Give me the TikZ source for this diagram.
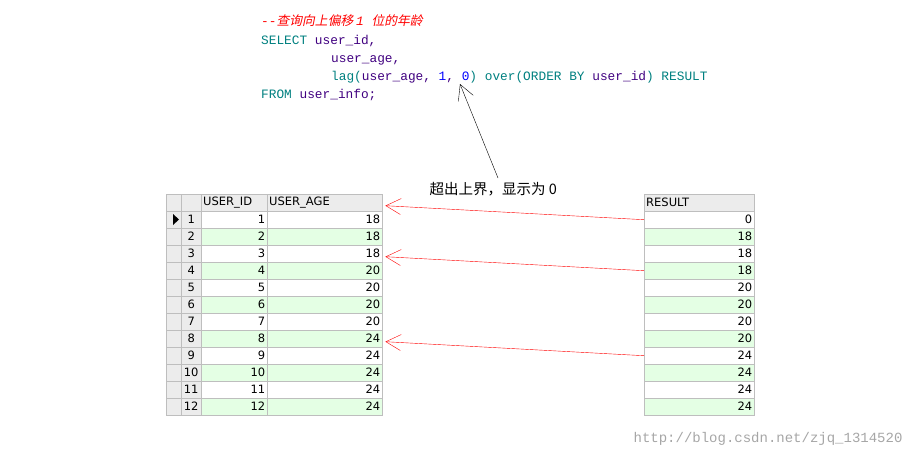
\documentclass[tikz,border=0pt]{standalone}
\usepackage{fontspec}
\setsansfont{DejaVu Sans}
\setmonofont{Liberation Mono}
\newfontfamily\cjk{Noto Sans CJK SC}
\newfontfamily\cjkit[FakeSlant=0.2]{Noto Sans CJK SC}
\usetikzlibrary{arrows.meta,positioning}
\definecolor{sqlkey}{RGB}{0,128,128}
\definecolor{sqlid}{RGB}{64,0,128}
\definecolor{sqlnum}{RGB}{0,0,255}
\definecolor{rowgreen}{RGB}{228,255,228}
\definecolor{gridgray}{RGB}{190,190,190}
\definecolor{headgray}{RGB}{236,236,236}
\tikzset{
  sql/.style={anchor=base west,inner sep=0pt,font=\fontsize{12.8}{14}\ttfamily},
  cell/.style={draw=gridgray,minimum height=17pt,inner sep=2pt,font=\fontsize{11.5}{12}\sffamily,text=black},
  redarrow/.style={red,-{Straight Barb[length=15pt,width=16pt]}}
}
\begin{document}
\begin{tikzpicture}[x=1pt,y=-1pt]
\useasboundingbox (0,0) rectangle (916,459);
% query
\node[sql,text=red] (cmt) at (261,25) {--\cjkit 查询向上偏移 \ttfamily\itshape 1 \cjkit 位的年龄};
\node[sql] (l1) at (261,44) {\textcolor{sqlkey}{SELECT} \textcolor{sqlid}{user\_id,}};
\node[sql] (l2) at (331,62) {\textcolor{sqlid}{user\_age,}};
\node[sql] (l3) at (331,80) {\textcolor{sqlkey}{lag(}\textcolor{sqlid}{user\_age,} \textcolor{sqlnum}{1}\textcolor{sqlid}{,} \textcolor{sqlnum}{0}\textcolor{sqlkey}{) over(ORDER BY }\textcolor{sqlid}{user\_id}\textcolor{sqlkey}{) RESULT}};
\node[sql] (l4) at (261,98) {\textcolor{sqlkey}{FROM} \textcolor{sqlid}{user\_info;}};
\coordinate (zero) at (460,84);
% note
\node[font=\cjk\fontsize{14.5}{16}\selectfont,anchor=west] (note) at (426,189) {超出上界，显示为 0};
\draw[-{Straight Barb[length=15pt,width=16pt]}] (498,178) -- (zero);
% left table header
\node[cell,fill=headgray,minimum width=15pt,anchor=north west] (hm) at (166,194) {};
\node[cell,fill=headgray,minimum width=20pt,anchor=north west] (hn) at (181,194) {};
\node[cell,fill=headgray,minimum width=66pt,anchor=north west,text width=62pt] (hid) at (201,194) {USER\_ID};
\node[cell,fill=headgray,minimum width=115pt,anchor=north west,text width=111pt] (hage) at (267,194) {USER\_AGE};
% right table header
\node[cell,fill=headgray,minimum width=110pt,anchor=north west,text width=106pt] (hres) at (644,194) {RESULT};
\foreach \i/\a/\r in {1/18/0,2/18/18,3/18/18,4/20/18,5/20/20,6/20/20,7/20/20,8/24/20,9/24/24,10/24/24,11/24/24,12/24/24}{
  \pgfmathsetmacro{\yy}{211+17*(\i-1)}
  \pgfmathtruncatemacro{\odd}{mod(\i,2)}
  \ifnum\odd=0 \def\bg{rowgreen}\else\def\bg{white}\fi
  \node[cell,fill=headgray,minimum width=15pt,anchor=north west] (m\i) at (166,\yy) {};
  \node[cell,fill=headgray,minimum width=20pt,anchor=north west] (n\i) at (181,\yy) {\i};
  \node[cell,fill=\bg,minimum width=66pt,text width=62pt,align=right,anchor=north west] (id\i) at (201,\yy) {\i};
  \node[cell,fill=\bg,minimum width=115pt,text width=111pt,align=right,anchor=north west] (age\i) at (267,\yy) {\a};
  \node[cell,fill=\bg,minimum width=110pt,text width=106pt,align=right,anchor=north west] (res\i) at (644,\yy) {\r};
}
\fill (173,214) -- (179,219.5) -- (173,225) -- cycle;
% lag arrows
\draw[redarrow] (res1.west) -- ([xshift=3pt,yshift=-3pt]hage.east);
\draw[redarrow] (res4.west) -- ([xshift=3pt,yshift=-3pt]age3.east);
\draw[redarrow] (res9.west) -- ([xshift=3pt,yshift=-3pt]age8.east);
% watermark
\node[anchor=east,text=black!35,font=\fontsize{14}{16}\ttfamily] (wm) at (906,439) {http://blog.csdn.net/zjq\_1314520};
\end{tikzpicture}
\end{document}
